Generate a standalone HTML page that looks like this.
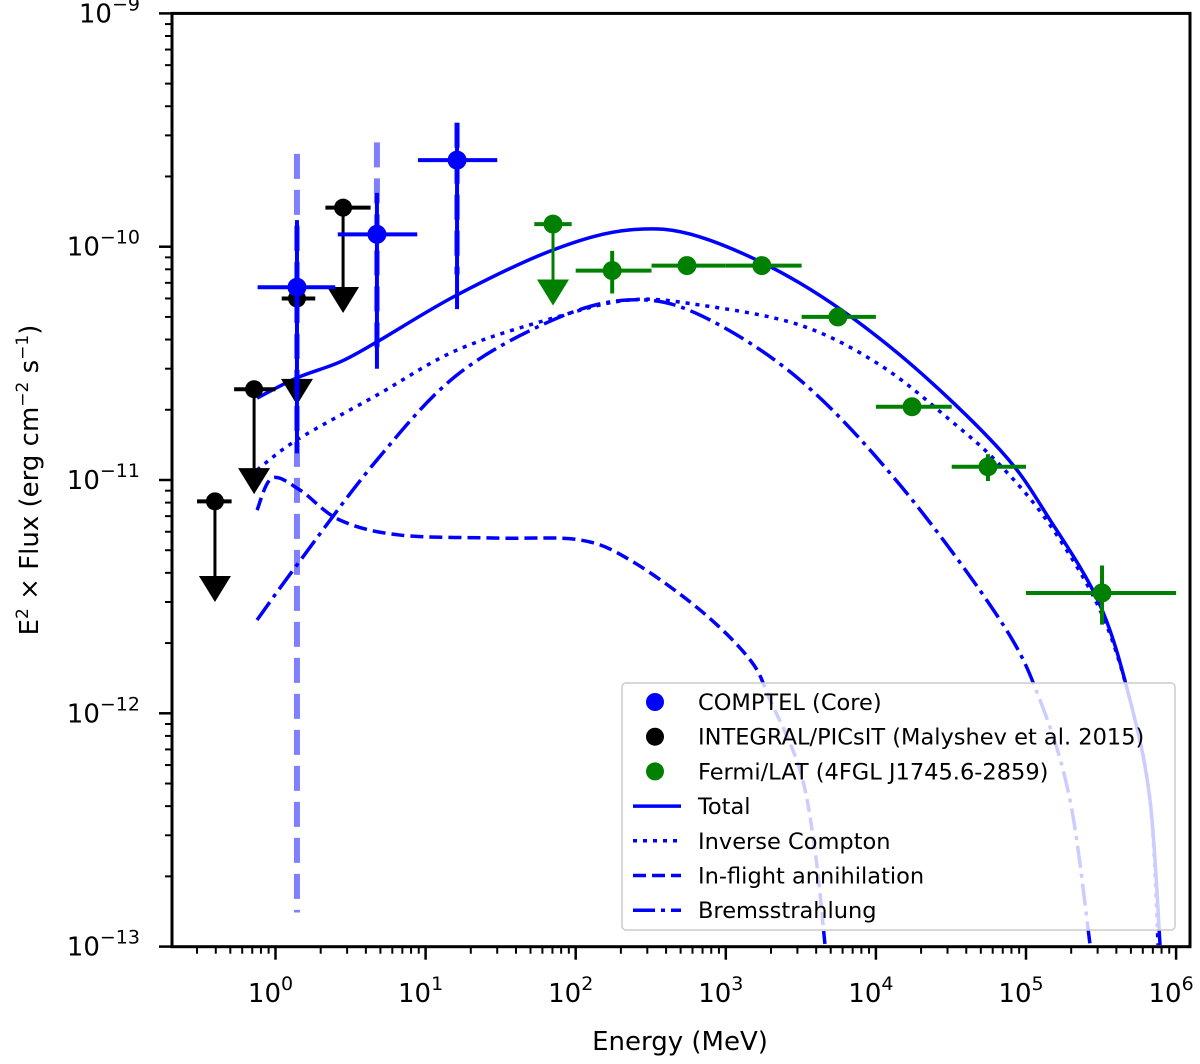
<!DOCTYPE html>
<html><head><meta charset="utf-8"><style>
html,body{margin:0;padding:0;background:#fff;}
svg text{font-family:"DejaVu Sans","Liberation Sans",sans-serif;}
</style></head><body>
<svg id="chart" width="1200" height="1059" viewBox="0 0 1200 1059" xmlns="http://www.w3.org/2000/svg">
<defs><clipPath id="plotclip"><rect x="172" y="13" width="1018" height="934"/></clipPath></defs>
<g id="marks" clip-path="url(#plotclip)"></g>
<g id="axes"></g>
<g id="legend"></g>
</svg>
<script>
// ---- data (E [MeV], values in erg cm^-2 s^-1) ----
const comptelE = [1.39, 4.74, 16.2];
const comptelF = [6.7e-11, 1.13e-10, 2.35e-10];
const comptelElo = [0.76, 2.6, 8.9];
const comptelEhi = [2.5, 8.8, 30];
const comptelFlo = [1.3e-11, 3.0e-11, 5.4e-11];
const comptelFhi = [1.3e-10, 1.7e-10, 3.4e-10];
const comptelSysLo = [1.4e-13, 3.6e-11, 7.6e-11];
const comptelSysHi = [2.5e-10, 2.8e-10, 3.4e-10];

const integralE = [0.395, 0.72, 1.39, 2.82];
const integralF = [8.1e-12, 2.45e-11, 6.0e-11, 1.47e-10];
const integralElo = [0.30, 0.53, 1.1, 2.15];
const integralEhi = [0.51, 1.0, 1.84, 4.3];
const integralUL = [3.0e-12, 8.7e-12, 2.1e-11, 5.2e-11];

const fermiE = [70.6, 175, 551, 1738, 5580, 17400, 55800, 321000];
const fermiF = [1.25e-10, 7.9e-11, 8.3e-11, 8.3e-11, 5.0e-11, 2.06e-11, 1.14e-11, 3.28e-12];
const fermiElo = [53, 100, 320, 1000, 3200, 10000, 32000, 100000];
const fermiEhi = [94, 320, 1000, 3200, 10000, 32000, 100000, 1000000];
const fermiFlo = [null, 6.3e-11, 7.9e-11, 7.9e-11, 4.7e-11, 1.95e-11, 9.9e-12, 2.4e-12];
const fermiFhi = [null, 9.6e-11, 8.7e-11, 8.7e-11, 5.3e-11, 2.17e-11, 1.29e-11, 4.3e-12];
const fermiUL = [5.6e-11, null, null, null, null, null, null, null];

const totalLogE = [-0.123, 0.143, 0.43, 0.676, 1.209, 1.849, 2.362, 2.828, 3.494, 4.16, 4.827, 5.16, 5.493, 5.693, 5.826, 5.893];
const totalLogF = [-10.649, -10.562, -10.494, -10.408, -10.207, -10.014, -9.928, -9.958, -10.156, -10.464, -10.871, -11.171, -11.536, -11.943, -12.371, -12.993];
const icLogE = [-0.123, 0.143, 0.676, 1.209, 1.849, 2.362, 2.828, 3.494, 4.027, 4.494, 4.827, 5.16, 5.493, 5.693, 5.826, 5.88];
const icLogF = [-10.957, -10.828, -10.636, -10.443, -10.306, -10.228, -10.25, -10.336, -10.507, -10.743, -10.936, -11.193, -11.557, -11.943, -12.371, -12.993];
const bremLogE = [-0.123, 0.143, 0.676, 1.209, 1.849, 2.362, 2.828, 3.494, 4.16, 4.827, 5.093, 5.293, 5.427];
const bremLogF = [-11.6, -11.364, -10.914, -10.55, -10.314, -10.228, -10.293, -10.571, -11.021, -11.6, -11.943, -12.371, -12.993];
const annLogE = [-0.123, -0.023, 0.163, 0.43, 0.829, 1.495, 2.028, 2.362, 2.828, 3.162, 3.295, 3.494, 3.594, 3.661];
const annLogF = [-11.129, -10.992, -11.043, -11.172, -11.236, -11.249, -11.257, -11.343, -11.557, -11.771, -11.943, -12.243, -12.586, -12.993];

const yTickExps = [-13, -12, -11, -10, -9];
const xTickExps = [0, 1, 2, 3, 4, 5, 6];

// ---- axes ----
const L = 172, R = 1190, T = 13.4, B = 946.7;
const X0 = 275.5, XD = 150.1, YD = 233.3;
const xl = l => X0 + l * XD;
const yl = l => T + (-9 - l) * YD;
const xs = v => xl(Math.log10(v));
const ys = v => yl(Math.log10(v));
const NS = 'http://www.w3.org/2000/svg';
function mk(tag, attrs, parent) { const e = document.createElementNS(NS, tag); for (const k in attrs) e.setAttribute(k, attrs[k]); parent.appendChild(e); return e; }
const marks = document.getElementById('marks'), axes = document.getElementById('axes'), leg = document.getElementById('legend');

function curvePath(lx, ly) {
  const p = lx.map((v, i) => [xl(v), yl(ly[i])]);
  let d = `M${p[0][0]},${p[0][1]}`;
  for (let i = 0; i < p.length - 1; i++) {
    const p0 = p[Math.max(0, i - 1)], p1 = p[i], p2 = p[i + 1], p3 = p[Math.min(p.length - 1, i + 2)];
    const c1 = [p1[0] + (p2[0] - p0[0]) / 6, p1[1] + (p2[1] - p0[1]) / 6];
    const c2 = [p2[0] - (p3[0] - p1[0]) / 6, p2[1] - (p3[1] - p1[1]) / 6];
    d += ` C${c1[0]},${c1[1]} ${c2[0]},${c2[1]} ${p2[0]},${p2[1]}`;
  }
  return d;
}
const blue = '#0000ff', green = '#008000';

let c;
c = mk('path', {d: curvePath(totalLogE, totalLogF), fill: 'none', stroke: blue, 'stroke-width': 3.5}, marks);
 
c = mk('path', {d: curvePath(icLogE, icLogF), fill: 'none', stroke: blue, 'stroke-width': 3.5, 'stroke-dasharray': '4,6'}, marks);
 
c = mk('path', {d: curvePath(annLogE, annLogF), fill: 'none', stroke: blue, 'stroke-width': 3.5, 'stroke-dasharray': '13,6'}, marks);
 
c = mk('path', {d: curvePath(bremLogE, bremLogF), fill: 'none', stroke: blue, 'stroke-width': 3.5, 'stroke-dasharray': '22,6,4,6'}, marks);
 

function arrow(x, y, col, parent) {
  mk('polygon', {points: `${x - 16},${y - 26} ${x + 16},${y - 26} ${x},${y}`, fill: col}, parent);
}

integralE.forEach((e, i) => {
  const g = mk('g', {}, marks);
  
  
  const x = xs(e), y = ys(integralF[i]), yu = ys(integralUL[i]);
  mk('line', {x1: xs(integralElo[i]), x2: xs(integralEhi[i]), y1: y, y2: y, stroke: '#000', 'stroke-width': 4}, g);
  mk('line', {x1: x, x2: x, y1: y, y2: yu - 20, stroke: '#000', 'stroke-width': 3}, g);
  arrow(x, yu, '#000', g);
  mk('circle', {cx: x, cy: y, r: 9, fill: '#000'}, g);
});

comptelE.forEach((e, i) => {
  const g = mk('g', {}, marks);
  
  
  const x = xs(e), y = ys(comptelF[i]);
  mk('line', {x1: x, x2: x, y1: ys(comptelSysHi[i]), y2: ys(comptelSysLo[i]), stroke: 'rgba(0,0,255,0.5)', 'stroke-width': 6, 'stroke-dasharray': '25,11'}, g);
  mk('line', {x1: xs(comptelElo[i]), x2: xs(comptelEhi[i]), y1: y, y2: y, stroke: blue, 'stroke-width': 4}, g);
  mk('line', {x1: x, x2: x, y1: ys(comptelFhi[i]), y2: ys(comptelFlo[i]), stroke: blue, 'stroke-width': 4}, g);
  mk('circle', {cx: x, cy: y, r: 9.5, fill: blue}, g);
});

fermiE.forEach((e, i) => {
  const g = mk('g', {}, marks);
  
  
  const x = xs(e), y = ys(fermiF[i]);
  mk('line', {x1: xs(fermiElo[i]), x2: xs(fermiEhi[i]), y1: y, y2: y, stroke: green, 'stroke-width': 4}, g);
  if (fermiUL[i] !== null) {
    const yu = ys(fermiUL[i]);
    mk('line', {x1: x, x2: x, y1: y, y2: yu - 20, stroke: green, 'stroke-width': 3}, g);
    arrow(x, yu, green, g);
  } else {
    mk('line', {x1: x, x2: x, y1: ys(fermiFhi[i]), y2: ys(fermiFlo[i]), stroke: green, 'stroke-width': 4}, g);
  }
  mk('circle', {cx: x, cy: y, r: 9.5, fill: green}, g);
});

const fr = mk('rect', {x: L, y: T, width: R - L, height: B - T, fill: 'none', stroke: '#000', 'stroke-width': 3}, axes);
 

yTickExps.forEach(ex => {
  const y = yl(ex);
  mk('line', {x1: L - 13, x2: L, y1: y, y2: y, stroke: '#000', 'stroke-width': 2.5}, axes);
  const t = mk('text', {x: L - 32, y: y + 9, 'text-anchor': 'end', 'font-size': 26}, axes);
   
  t.innerHTML = `10<tspan dy="-12" font-size="19">\u2212${-ex}</tspan>`;
  if (ex < -9) for (let m = 2; m <= 9; m++) {
    const ym = yl(ex + Math.log10(m));
    mk('line', {x1: L - 7, x2: L, y1: ym, y2: ym, stroke: '#000', 'stroke-width': 2}, axes);
  }
});
for (let ex = -1; ex <= 6; ex++) {
  const x = xl(ex);
  if (ex >= 0) mk('line', {x1: x, x2: x, y1: B, y2: B + 13, stroke: '#000', 'stroke-width': 2.5}, axes);
  for (let m = 2; m <= 9; m++) {
    const xm = xl(ex + Math.log10(m));
    if (xm > L && xm < R) mk('line', {x1: xm, x2: xm, y1: B, y2: B + 7, stroke: '#000', 'stroke-width': 2}, axes);
  }
}
xTickExps.forEach(ex => {
  const t = mk('text', {x: xl(ex) - 5, y: 1002, 'text-anchor': 'middle', 'font-size': 26}, axes);
   
  t.innerHTML = `10<tspan dy="-12" font-size="19">${ex}</tspan>`;
});
let t = mk('text', {x: 680, y: 1050, 'text-anchor': 'middle', 'font-size': 26}, axes);
 
t.textContent = 'Energy (MeV)';
t = mk('text', {x: 0, y: 0, 'text-anchor': 'middle', 'font-size': 26, transform: 'translate(38,480) rotate(-90)'}, axes);
 
t.innerHTML = 'E<tspan dy="-10" font-size="17">2</tspan><tspan dy="10"> × Flux (erg cm</tspan><tspan dy="-10" font-size="17">\u22122</tspan><tspan dy="10"> s</tspan><tspan dy="-10" font-size="17">\u22121</tspan><tspan dy="10">)</tspan>';

const lb = mk('rect', {x: 622, y: 683, width: 553, height: 247, rx: 4, fill: 'rgba(255,255,255,0.8)', stroke: '#ccc', 'stroke-width': 1.5}, leg);
 
const legLabels = ['COMPTEL (Core)', 'INTEGRAL/PICsIT (Malyshev et al. 2015)', 'Fermi/LAT (4FGL J1745.6-2859)', 'Total', 'Inverse Compton', 'In-flight annihilation', 'Bremsstrahlung'];
const legStyles = [['dot', blue], ['dot', '#000'], ['dot', green], ['line', 'none'], ['line', '4,6'], ['line', '13,6'], ['line', '22,6,4,6']];
legLabels.forEach((lab, i) => {
  const y = 702 + i * 34.7;
  const g = mk('g', {}, leg);
  
  
  const s = legStyles[i];
  if (s[0] === 'dot') mk('circle', {cx: 655, cy: y, r: 9, fill: s[1]}, g);
  else mk('line', {x1: 633, x2: 681, y1: y, y2: y, stroke: blue, 'stroke-width': 3.5, 'stroke-dasharray': s[1]}, g);
  const tx = mk('text', {x: 698, y: y + 8, 'font-size': 22.5}, g);
  tx.textContent = lab;
});
</script>
</body></html>
